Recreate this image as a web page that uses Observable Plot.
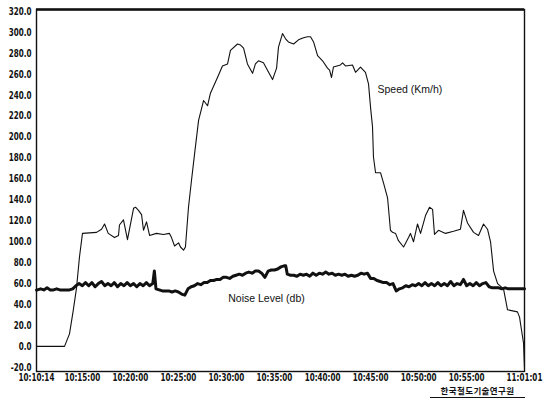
<!DOCTYPE html>
<html>
<head>
<meta charset="utf-8">
<script src="https://cdn.jsdelivr.net/npm/d3@7"></script>
<script src="https://cdn.jsdelivr.net/npm/@observablehq/plot@0.6"></script>
<style>
  html, body { margin: 0; padding: 0; background: #fff; }
  #wrap { position: relative; width: 545px; height: 406px; overflow: hidden; }
  #caption {
    position: absolute; left: 430px; top: 384px; width: 95px;
    text-align: center; font: bold 8.5px "Noto Sans CJK KR", sans-serif;
    color: #111; border-bottom: 1.2px solid #111; padding-bottom: 1px; letter-spacing: 0.4px;
  }
</style>
</head>
<body>
<div id="wrap"><div id="caption">한국철도기술연구원</div></div>
<script>
const speedTime = ["10:10:14","10:13:09","10:13:40","10:14:03","10:14:24","10:14:42","10:15:01","10:16:29","10:17:00","10:17:19","10:17:42","10:18:21","10:18:46","10:18:52","10:19:17","10:19:42","10:20:20","10:20:32","10:20:51","10:21:10","10:21:22","10:21:41","10:22:00","10:22:43","10:23:27","10:24:04","10:24:17","10:24:36","10:25:01","10:25:13","10:25:32","10:25:44","10:26:03","10:26:22","10:26:41","10:27:06","10:27:37","10:28:02","10:28:20","10:29:04","10:29:35","10:30:07","10:30:25","10:31:09","10:31:28","10:31:47","10:32:11","10:32:43","10:33:01","10:33:20","10:33:51","10:34:23","10:34:48","10:35:13","10:35:25","10:35:50","10:36:09","10:36:27","10:36:59","10:37:30","10:38:01","10:38:26","10:38:45","10:39:04","10:39:29","10:40:00","10:40:31","10:40:44","10:40:56","10:41:08","10:41:52","10:42:05","10:42:23","10:43:07","10:43:26","10:43:57","10:44:28","10:44:47","10:45:00","10:45:12","10:45:18","10:45:31","10:46:02","10:46:21","10:46:46","10:47:04","10:47:17","10:47:36","10:47:54","10:48:26","10:48:57","10:49:09","10:49:28","10:49:53","10:50:12","10:50:43","10:51:08","10:51:27","10:51:39","10:52:04","10:52:48","10:53:38","10:54:21","10:54:40","10:55:05","10:55:43","10:56:14","10:56:45","10:57:10","10:57:29","10:57:48","10:58:13","10:58:50","10:59:15","11:00:17","11:00:30","11:00:49","11:00:55","11:01:01"];
const speedKmh = [0,0,12,34,56,85,108,109,112,117,108,104,106,116,121,102,132,133,130,126,111,119,106,108,107,108,104,96,99,95,92,95,133,159,184,216,235,230,242,257,268,270,283,289,288,285,270,261,270,273,271,262,255,266,286,299,294,291,289,293,295,296,296,291,278,273,266,264,257,267,269,271,268,269,262,267,262,251,228,210,181,166,166,156,142,111,109,108,101,95,104,108,100,117,108,125,133,131,107,111,108,110,112,130,118,109,106,117,112,100,72,60,55,35,33,28,9,3,-20];

const noiseTime = ["10:10:14","10:10:20","10:10:40","10:11:00","10:11:20","10:11:40","10:12:00","10:12:20","10:12:40","10:13:00","10:13:20","10:13:40","10:14:00","10:14:20","10:14:40","10:15:00","10:15:20","10:15:40","10:16:00","10:16:20","10:16:40","10:17:00","10:17:20","10:17:40","10:18:00","10:18:20","10:18:40","10:19:00","10:19:20","10:19:40","10:20:00","10:20:20","10:20:40","10:21:00","10:21:20","10:21:40","10:22:00","10:22:20","10:22:30","10:22:40","10:23:00","10:23:20","10:23:40","10:24:00","10:24:20","10:24:40","10:25:00","10:25:20","10:25:40","10:26:00","10:26:20","10:26:40","10:27:00","10:27:20","10:27:40","10:28:00","10:28:20","10:28:40","10:29:00","10:29:20","10:29:40","10:30:00","10:30:20","10:30:40","10:31:00","10:31:20","10:31:40","10:32:00","10:32:20","10:32:40","10:33:00","10:33:20","10:33:40","10:34:00","10:34:20","10:34:40","10:35:00","10:35:20","10:35:40","10:36:00","10:36:10","10:36:20","10:36:40","10:37:00","10:37:20","10:37:40","10:38:00","10:38:20","10:38:40","10:39:00","10:39:20","10:39:40","10:40:00","10:40:20","10:40:40","10:41:00","10:41:20","10:41:40","10:42:00","10:42:20","10:42:40","10:43:00","10:43:20","10:43:40","10:44:00","10:44:20","10:44:40","10:45:00","10:45:20","10:45:40","10:46:00","10:46:20","10:46:40","10:47:00","10:47:20","10:47:40","10:48:00","10:48:20","10:48:40","10:49:00","10:49:20","10:49:40","10:50:00","10:50:20","10:50:40","10:51:00","10:51:20","10:51:40","10:52:00","10:52:20","10:52:40","10:53:00","10:53:20","10:53:40","10:54:00","10:54:20","10:54:40","10:55:00","10:55:20","10:55:40","10:56:00","10:56:20","10:56:40","10:57:00","10:57:20","10:57:40","10:58:00","10:58:20","10:58:40","10:59:00","10:59:20","10:59:40","11:00:00","11:00:20","11:00:40","11:01:01"];
const noiseDb = [54,54,55,54,56,54,54,55,54,54,54,54,55,58,60,58,61,58,61,57,60,62,58,60,58,61,57,60,58,61,58,60,57,60,58,61,58,60,72,55,54,53,53,53,52,53,52,50,49,55,57,58,60,59,61,61,63,63,64,64,66,66,65,67,68,69,68,70,71,70,72,72,70,66,72,73,73,74,76,77,77,69,68,68,67,69,68,69,67,70,68,70,69,71,69,70,68,69,68,69,67,68,67,68,70,69,70,65,65,63,62,61,61,59,60,53,55,56,58,57,59,58,60,58,61,58,60,58,61,58,60,58,62,58,60,59,64,58,60,58,61,58,60,61,57,56,56,56,55,56,55,55,55,55,55,55];

const xTickTimes = ["10:10:14","10:15:00","10:20:00","10:25:00","10:30:00","10:35:00","10:40:00","10:45:00","10:50:00","10:55:00","11:01:01"];
const yTickValues = [-20,0,20,40,60,80,100,120,140,160,180,200,220,240,260,280,300,320];
const yDomain = [-24, 322];

const speedLabel = {text: "Speed (Km/h)", time: "10:45:43", value: 245};
const noiseLabel = {text: "Noise Level (db)", time: "10:34:10", value: 46};

const T = s => new Date(`2000-01-01T${s}Z`);
const speed = speedTime.map((t, i) => ({t: T(t), v: speedKmh[i]}));
const noise = noiseTime.map((t, i) => ({t: T(t), v: noiseDb[i]}));
const fmt = d3.utcFormat("%H:%M:%S");
const numFont = "'Liberation Sans Narrow', 'DejaVu Sans Condensed', 'Arial Narrow', sans-serif";
const labelFont = "'Liberation Sans', Arial, sans-serif";

const chart = Plot.plot({
  width: 545,
  height: 406,
  marginLeft: 36,
  marginRight: 21,
  marginTop: 9,
  marginBottom: 35,
  style: {background: "#fff", color: "#111", fontFamily: numFont},
  x: {type: "utc", domain: [T(xTickTimes[0]), T(xTickTimes[xTickTimes.length - 1])], ticks: xTickTimes.map(T), tickFormat: fmt, tickSize: 0, tickPadding: 2, label: null},
  y: {domain: yDomain, ticks: yTickValues, tickFormat: d => d.toFixed(1), tickSize: 0, tickPadding: 5, label: null},
  marks: [
    Plot.frame({stroke: "#111", strokeWidth: 1.4}),
    Plot.ruleY([yDomain[1]], {stroke: "#111", strokeWidth: 2.6}),
    Plot.line(noise, {x: "t", y: "v", stroke: "#111", strokeWidth: 3, strokeLinejoin: "round"}),
    Plot.line(speed, {x: "t", y: "v", stroke: "#111", strokeWidth: 1.1}),
    Plot.text([speedLabel], {x: d => T(d.time), y: "value", text: "text", textAnchor: "start", fontSize: 10.5, fontFamily: labelFont, fill: "#111"}),
    Plot.text([noiseLabel], {x: d => T(d.time), y: "value", text: "text", textAnchor: "middle", fontSize: 10.5, fontFamily: labelFont, fill: "#111"})
  ]
});
document.getElementById("wrap").prepend(chart);

// condensed look of the original's tick labels
chart.querySelectorAll("g[aria-label='x-axis tick label'] text, g[aria-label='y-axis tick label'] text").forEach(el => {
  el.setAttribute("font-weight", "bold");
  el.setAttribute("font-size", "10");
  el.setAttribute("transform", (el.getAttribute("transform") || "") + " scale(0.8,1)");
});
</script>
</body>
</html>
